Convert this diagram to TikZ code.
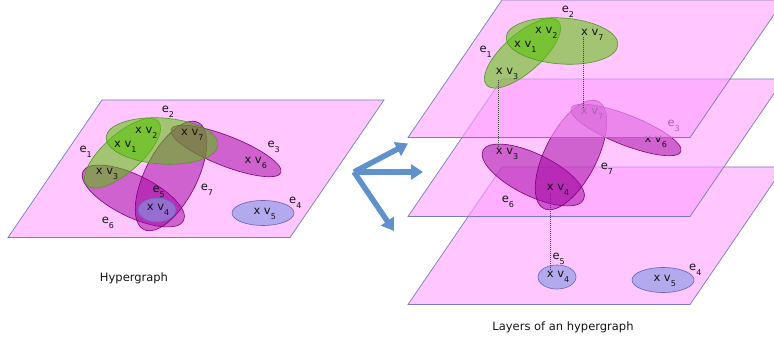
\documentclass[tikz,border=0pt]{standalone}
\usepackage{fontspec}
\setmainfont{DejaVu Sans}
\usetikzlibrary{arrows.meta}
\definecolor{planefill}{RGB}{255,160,255}
\definecolor{planeline}{RGB}{120,120,200}
\definecolor{greenfill}{RGB}{85,195,0}
\definecolor{greenline}{RGB}{80,150,40}
\definecolor{purplefill}{RGB}{160,0,160}
\definecolor{purpleline}{RGB}{120,0,120}
\definecolor{bluefill}{RGB}{130,150,225}
\definecolor{blueline}{RGB}{100,100,190}
\definecolor{arrowblue}{RGB}{95,145,205}
\definecolor{txt}{RGB}{20,20,20}
\newcommand\vlab[1]{x v\raisebox{-5pt}{\fontsize{8}{8}\selectfont #1}}
\newcommand\elab[1]{e\raisebox{-5pt}{\fontsize{8}{8}\selectfont #1}}
% layer contents, in plane-local coordinates
\newcommand\topEllipses{%
  \path[gedge, rotate around={41.5:(20.5,53.3)}] (20.5,53.3) ellipse [x radius=48pt, y radius=19pt];
  \path[gedge, rotate around={-4:(60,41)}] (60,41) ellipse [x radius=56pt, y radius=23pt];
}
\newcommand\midEllipses{%
  \path[pedge, rotate around={-26:(31.3,96)}] (31.3,96) ellipse [x radius=56pt, y radius=21pt];
  \path[pedge, rotate around={63:(69,76)}] (69,76) ellipse [x radius=60pt, y radius=26pt];
  \path[pedge, rotate around={-21.5:(124,51)}] (124,51) ellipse [x radius=59pt, y radius=15pt];
}
\newcommand\botEllipses{%
  \path[bedge] (55,110) ellipse [x radius=19pt, y radius=12pt];
  \path[bedge] (161,113) ellipse [x radius=31pt, y radius=12.5pt];
}
\newcommand\topLabels{%
  \node[lab] (v1) at (12,47.7) {\vlab{1}};
  \node[lab] (v2) at (33,33.3) {\vlab{2}};
  \node[lab] (v3) at (-6.3,75) {\vlab{3}};
  \node[lab] (v7) at (79,36) {\vlab{7}};
  \node[lab] (e1) at (-22.7,52.7) {\elab{1}};
  \node[lab] (e2) at (59.7,12.7) {\elab{2}};
}
\newcommand\midLabels{%
  \node[lab] (v6) at (142.3,63.3) {\vlab{6}};
  \node[lab] (e3) at (165.3,47.7) {\elab{3}};
  \node[lab] (e7) at (98.7,90.3) {\elab{7}};
  \node[lab] (e6) at (-0.3,123.7) {\elab{6}};
}
\newcommand\botLabels{%
  \node[lab] (v4) at (44.7,110.3) {\vlab{4}};
  \node[lab] (v5) at (151.3,114.7) {\vlab{5}};
  \node[lab] (e5) at (50.3,93) {\elab{5}};
  \node[lab] (e4) at (187,103.7) {\elab{4}};
}
\newcommand\planeShape{%
  \path[plane] (0,0) -- (282,0) -- (188,137.5) -- (-94,137.5) -- cycle;
}
\begin{document}
\begin{tikzpicture}[x=1pt,y=-1pt,
  plane/.style={draw=planeline, line width=0.7pt, fill=planefill, fill opacity=0.6},
  gedge/.style={draw=greenline, line width=0.6pt, fill=greenfill, fill opacity=0.55},
  pedge/.style={draw=purpleline, line width=0.6pt, fill=purplefill, fill opacity=0.5},
  bedge/.style={draw=blueline, line width=0.6pt, fill=bluefill, fill opacity=0.6},
  lab/.style={anchor=base west, inner sep=0pt, text=txt, font=\fontsize{11.5}{11.5}\selectfont},
  captext/.style={anchor=base, inner sep=0pt, text=txt, font=\fontsize{11.5}{12}\selectfont},
  link/.style={draw=black!75, line width=0.6pt, dash pattern=on 0.8pt off 1.2pt},
  bigarrow/.style={draw=arrowblue, line width=5.5pt, -{Triangle[width=15pt,length=12pt]}}]
\useasboundingbox (0,0) rectangle (774,339);

% ---- left: the whole hypergraph
\begin{scope}[shift={(102,100)}, name prefix=L-]
  \planeShape
  \midEllipses
  \botEllipses
  \topEllipses
  \topLabels
  \midLabels
  \botLabels
\end{scope}
\node[captext] (cap1) at (134,281.5) {Hypergraph};

% ---- arrows
\coordinate (o) at (354,172);
\coordinate (a1) at (408,143.5);
\coordinate (a2) at (423,172);
\coordinate (a3) at (394,231);
\draw[bigarrow] (o) -- (a1);
\draw[bigarrow] (o) -- (a2);
\draw[bigarrow] (o) -- (a3);

% ---- right: layers
\begin{scope}[shift={(502,167)}, name prefix=B-]
  \planeShape
  \botEllipses
  \botLabels
  \coordinate (v4u) at (48,104);
\end{scope}
\begin{scope}[shift={(502,79)}, name prefix=M-]
  \planeShape
  \midEllipses
  \midLabels
  \node[lab] (v3) at (-6.3,76) {\vlab{3}};
  \node[lab] (v7) at (78.7,36) {\vlab{7}};
  \node[lab] (v4) at (44.7,112) {\vlab{4}};
  \coordinate (v3u) at (-3.5,69);
  \coordinate (v7u) at (81.5,29);
  \coordinate (v4d) at (48,114);
\end{scope}
\begin{scope}[shift={(502,0)}, name prefix=T-]
  \planeShape
  \topEllipses
  \topLabels
  \coordinate (v3d) at (-3.5,80);
  \coordinate (v7d) at (81.5,37);
\end{scope}
\draw[link] (T-v3d) -- (M-v3u);
\draw[link] (T-v7d) -- (M-v7u);
\draw[link] (M-v4d) -- (B-v4u);
\node[captext] (cap2) at (563,330) {Layers of an hypergraph};
\end{tikzpicture}
\end{document}
